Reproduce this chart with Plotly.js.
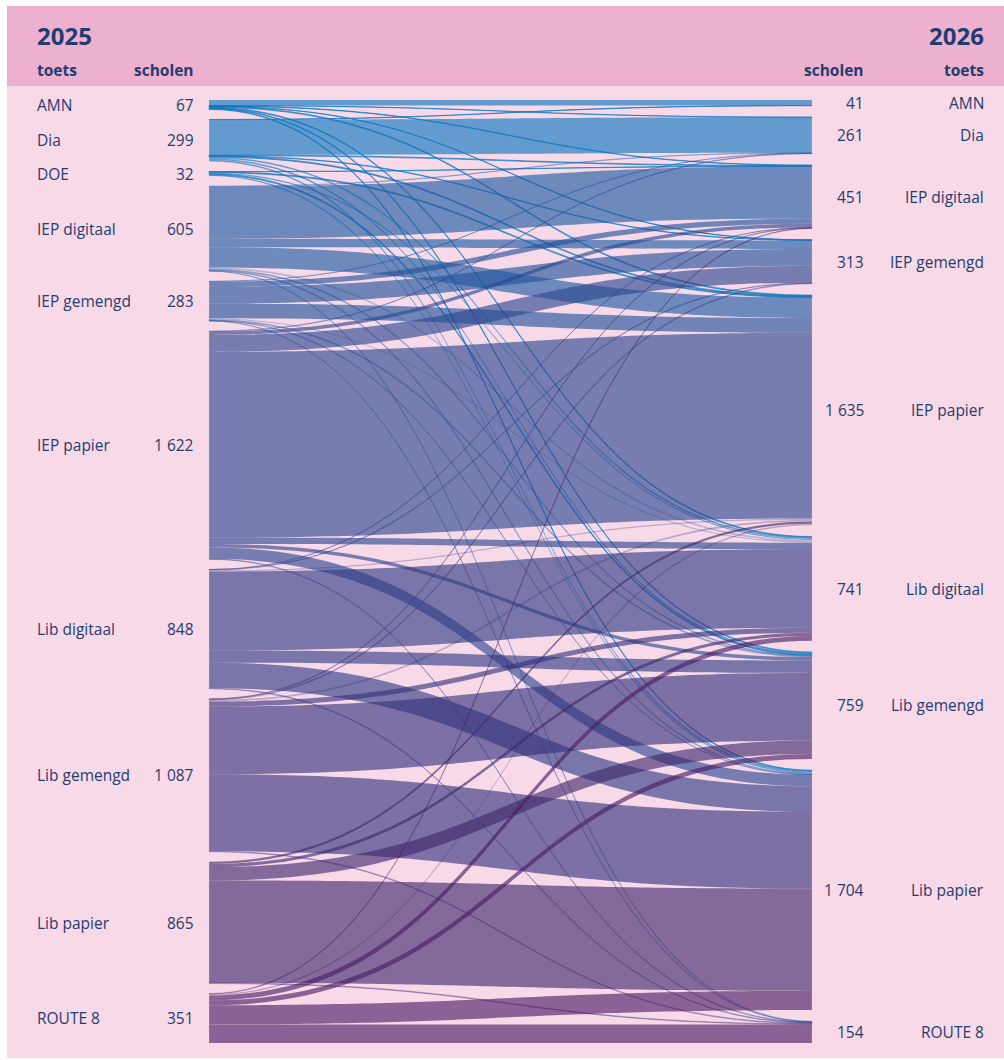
<!DOCTYPE html>
<html>
<head>
<meta charset="utf-8">
<script src="https://cdn.plot.ly/plotly-3.0.1.min.js"></script>
<style>
  html, body { margin: 0; padding: 0; background: #ffffff; }
  #chart { width: 1004px; height: 1060px; }
</style>
</head>
<body>
<div id="chart"></div>
<script>
// ---- data ----
const year2025 = '2025';
const year2026 = '2026';
const colTest = 'toets';
const colSchools = 'scholen';

const tests2025 = ['AMN', 'Dia', 'DOE', 'IEP digitaal', 'IEP gemengd', 'IEP papier', 'Lib digitaal', 'Lib gemengd', 'Lib papier', 'ROUTE 8'];
const tests2026 = ['AMN', 'Dia', 'IEP digitaal', 'IEP gemengd', 'IEP papier', 'Lib digitaal', 'Lib gemengd', 'Lib papier', 'ROUTE 8'];

// schools moving from each 2025 test to each 2026 test (order of tests2026)
const fromAMN         = [39,   2,   3,   2,    6,   5,   5,   5,   0];
const fromDia         = [ 2, 251,   5,   3,    6,  11,  10,  11,   0];
const fromDOE         = [ 0,   0,   2,   0,    6,   8,   7,   9,   0];
const fromIEPdigitaal = [ 0,   3, 371,  60,  145,  12,   6,   6,   2];
const fromIEPgemengd  = [ 0,   2,  37, 120,  105,   8,   7,   2,   2];
const fromIEPpapier   = [ 0,   3,  25, 120, 1319,  45,  25,  81,   4];
const fromLibdigitaal = [ 0,   0,   2,   3,   10, 560,  88, 181,   4];
const fromLibgemengd  = [ 0,   0,   3,   5,   12,  35, 481, 546,   5];
const fromLibpapier   = [ 0,   0,   0,   0,   16,  22,  95, 727,   5];
const fromROUTE8      = [ 0,   0,   3,   0,   10,  35,  35, 136, 132];

const flowRows = [fromAMN, fromDia, fromDOE, fromIEPdigitaal, fromIEPgemengd, fromIEPpapier,
                  fromLibdigitaal, fromLibgemengd, fromLibpapier, fromROUTE8];

// ---- style ----
const linkRGB = [
  [13,119,192], [13,119,192], [13,119,192],
  [29,92,162], [34,82,156], [42,71,143],
  [48,60,131], [53,50,123], [61,41,110],
  [73,28,99]
];
const linkAlpha = 0.63;
const faintAlpha = 0.3;
const textColor = '#1f3d6e';
const fontFam = '"Open Sans", "Noto Sans", sans-serif';

const W = 1004, Hpage = 1060;
const plotTop = 100, plotBottom = 1043;   // px
const plotLeft = 208, plotRight = 813;    // px
const pad = 10;

// ---- derived totals ----
const total2025 = flowRows.map(r => r.reduce((a, b) => a + b, 0));
const total2026 = tests2026.map((_, j) => flowRows.reduce((a, r) => a + r[j], 0));
const grand = total2025.reduce((a, b) => a + b, 0);

const H = plotBottom - plotTop;
const ky = (H - (tests2025.length - 1) * pad) / grand;
const padRight = (H - grand * ky) / (tests2026.length - 1);

function centers(totals, gap) {
  const out = [];
  let y = 0;
  totals.forEach(v => { const h = v * ky; out.push(y + h / 2); y += h + gap; });
  return out;
}
const cLeft = centers(total2025, pad);
const cRight = centers(total2026, padRight);

// nodes
const nodeX = [], nodeY = [], nodeLabels = [], nodeColors = [];
tests2025.forEach((t, i) => { nodeX.push(0.001); nodeY.push(cLeft[i] / H); nodeLabels.push(''); nodeColors.push('rgba(0,0,0,0)'); });
tests2026.forEach((t, j) => { nodeX.push(0.999); nodeY.push(cRight[j] / H); nodeLabels.push(''); nodeColors.push('rgba(0,0,0,0)'); });

// links
const src = [], tgt = [], val = [], lcol = [];
flowRows.forEach((row, i) => {
  row.forEach((v, j) => {
    if (v > 0) {
      src.push(i); tgt.push(tests2025.length + j); val.push(v);
      const a = (i >= 3 && v < 15) ? faintAlpha : linkAlpha;
      lcol.push('rgba(' + linkRGB[i].join(',') + ',' + a + ')');
    }
  });
});

function fmt(n) {
  if (n >= 1000) return Math.floor(n / 1000) + '\u00a0' + String(n % 1000).padStart(3, '0');
  return String(n);
}

const trace = {
  type: 'sankey',
  arrangement: 'fixed',
  domain: { x: [plotLeft / W, plotRight / W], y: [1 - plotBottom / Hpage, 1 - plotTop / Hpage] },
  hoverinfo: 'none',
  node: {
    label: nodeLabels, x: nodeX, y: nodeY, pad: pad, thickness: 1,
    color: nodeColors, line: { width: 0, color: 'rgba(0,0,0,0)' }, hoverinfo: 'none'
  },
  link: {
    source: src, target: tgt, value: val, color: lcol,
    line: { color: 'rgba(0,0,0,0)', width: 0 }, hoverinfo: 'none'
  }
};

const px = x => x / W;
const py = y => 1 - y / Hpage;
const annotations = [];
function ann(text, x, y, anchor, size, bold) {
  annotations.push({
    text: bold ? '<b>' + text + '</b>' : text, xref: 'paper', yref: 'paper',
    x: px(x), y: py(y), xanchor: anchor, yanchor: 'middle', showarrow: false,
    font: { family: fontFam, size: size, color: textColor }
  });
}
ann(year2025, 35, 35, 'left', 24, true);
ann(year2026, 986, 35, 'right', 24, true);
ann(colTest, 35, 70, 'left', 15.5, true);
ann(colSchools, 196, 70, 'right', 15.5, true);
ann(colSchools, 866, 70, 'right', 15.5, true);
ann(colTest, 986, 70, 'right', 15.5, true);

tests2025.forEach((t, i) => {
  const y = plotTop + cLeft[i];
  ann(t, 35, y, 'left', 15.5, false);
  ann(fmt(total2025[i]), 196, y, 'right', 15.5, false);
});
tests2026.forEach((t, j) => {
  const y = plotTop + cRight[j];
  ann(fmt(total2026[j]), 866, y, 'right', 15.5, false);
  ann(t, 986, y, 'right', 15.5, false);
});

const layout = {
  width: W, height: Hpage,
  margin: { l: 0, r: 0, t: 0, b: 0 },
  paper_bgcolor: '#ffffff',
  font: { family: fontFam, color: textColor },
  shapes: [
    { type: 'rect', xref: 'paper', yref: 'paper', x0: px(7), x1: px(1004), y0: py(1058), y1: py(86),
      fillcolor: '#f8d9e8', line: { width: 0 }, layer: 'below' },
    { type: 'rect', xref: 'paper', yref: 'paper', x0: px(7), x1: px(1004), y0: py(86), y1: py(6),
      fillcolor: '#edb0cf', line: { width: 0 }, layer: 'below' }
  ],
  annotations: annotations
};

Plotly.newPlot('chart', [trace], layout, { displayModeBar: false, staticPlot: true });
</script>
</body>
</html>
